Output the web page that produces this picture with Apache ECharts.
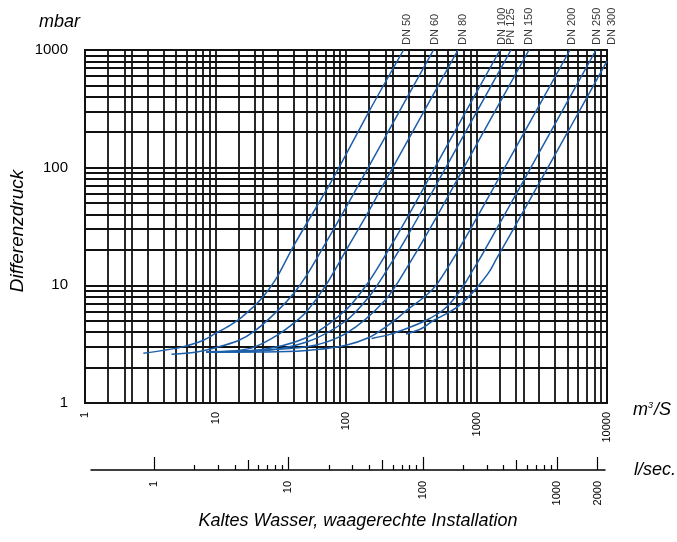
<!DOCTYPE html>
<html><head><meta charset="utf-8">
<script src="https://cdn.jsdelivr.net/npm/echarts@6/dist/echarts.min.js"></script>
<style>html,body{margin:0;padding:0;background:#fff}#c{width:677px;height:542px}</style>
</head><body><div id="c"></div>
<script>
// ---- axis tick / grid values ----
const xGridMantissas = [1, 1.5, 2, 2.3, 3, 4, 5, 6, 7, 8, 9];
const yGridMantissas = [1, 2, 3, 4, 5, 6, 7, 8, 9];
const xTickLabels = [1, 10, 100, 1000, 10000];
const yTickLabels = [1, 10, 100, 1000];
const lsMajorTicks = [1, 10, 100, 1000, 2000];
const lsMediumTicks = [5, 50, 500];
const lsMinorTicks = [2, 3, 4, 6, 7, 8, 9, 20, 30, 40, 60, 70, 80, 90, 200, 300, 400, 600, 700, 800, 900];

// ---- curves: [flow m3, pressure mbar] ----
const seriesNames = ['DN 50', 'DN 60', 'DN 80', 'DN 100', 'PN 125', 'DN 150', 'DN 200', 'DN 250', 'DN 300'];
const dn50  = [[2.8,2.65],[4,2.8],[5.6,3.0],[8,3.4],[10,3.9],[13,4.6],[16,5.4],[22,7.5],[28.6,11],[40,22],[78,78],[150,300],[276,1000]];
const dn60  = [[4.6,2.6],[7,2.7],[10,2.95],[15,3.4],[20,4.1],[30,6.1],[40,8.6],[50,12.2],[70,23],[100,46],[200,183],[468,1000]];
const dn80  = [[8.5,2.7],[15,2.8],[20,3.0],[30,3.8],[40,4.8],[50,6.0],[70,10.0],[100,19.8],[150,43],[200,77],[300,173],[721,1000]];
const dn100 = [[8.5,2.72],[20,2.8],[50,3.6],[100,6.2],[150,10.8],[200,18],[300,39],[500,109],[1514,1000]];
const pn125 = [[8.5,2.72],[20,2.75],[50,3.3],[100,5.0],[150,8.0],[200,12.8],[300,27],[500,74],[1000,296],[1837,1000]];
const dn150 = [[8.5,2.72],[50,3.0],[100,3.9],[200,7.5],[300,14.8],[500,39],[1000,157],[2525,1000]];
const dn200 = [[8.5,2.7],[30,2.72],[60,2.85],[100,3.1],[150,3.6],[200,4.4],[260,5.5],[300,6.3],[400,8.0],[500,10.3],[700,18.6],[1000,37],[2000,148],[5200,1000]];
const dn250 = [[157,3.54],[220,3.85],[309,4.4],[420,5.1],[558,6.2],[680,7.8],[794,9.9],[950,13.8],[1123,18.8],[1514,34],[2310,78.5],[4000,236],[8240,1000]];
const dn300 = [[288,3.86],[380,4.3],[465,5.0],[600,5.8],[744,6.8],[900,8.3],[1059,10.2],[1250,13],[1432,17],[1917,30],[3080,77],[5000,201],[10000,805]];
const curves = [dn50, dn60, dn80, dn100, pn125, dn150, dn200, dn250, dn300];

// label anchor positions along the top edge (flow value)
const dnLabelQ = [292, 481, 784, 1560, 1828, 2525, 5360, 8340, 10990];

const FONT = "'Liberation Sans', Arial, Helvetica, sans-serif";
const BLUE = '#1c5ea9';
const GRIDC = '#111';
const plain = v => String(v);

function expand(mants, decades, last) {
  const out = [];
  decades.forEach(d => mants.forEach(m => out.push(+(m * d).toPrecision(6))));
  if (last !== undefined) out.push(last);
  return out;
}
const xGrid = expand(xGridMantissas, [1, 10, 100, 1000], 10000);
const yGrid = expand(yGridMantissas, [1, 10, 100], 1000);

const chart = echarts.init(document.getElementById('c'), null, {renderer: 'canvas'});

const lsAxisBase = {
  type: 'log', logBase: 10, gridIndex: 1, min: 0.34, max: 2270, position: 'bottom',
  axisLine: {show: true, lineStyle: {color: '#000', width: 1.5}},
  splitLine: {show: false}, minorTick: {show: false}, minorSplitLine: {show: false}
};

const series = curves.map((d, i) => ({
  name: seriesNames[i], type: 'line', xAxisIndex: 0, yAxisIndex: 0,
  data: d, smooth: 0.3, showSymbol: false, symbol: 'none',
  lineStyle: {color: BLUE, width: 1.5}, z: 5, silent: true
}));
series.push({
  type: 'scatter', xAxisIndex: 0, yAxisIndex: 0, symbolSize: 0, clip: false, silent: true,
  data: dnLabelQ.map((q, i) => [q, 1000, seriesNames[i]]),
  label: {show: true, position: 'top', distance: 5, rotate: 90, align: 'left', verticalAlign: 'middle',
    formatter: p => p.data[2], fontFamily: FONT, fontSize: 11, color: '#000'}
});

chart.setOption({
  backgroundColor: '#fff',
  animation: false,
  textStyle: {fontFamily: FONT},
  grid: [
    {left: 85, top: 50, width: 522, height: 353, show: true, borderColor: GRIDC, borderWidth: 2, backgroundColor: 'transparent'},
    {left: 91, top: 420, width: 514, height: 50, show: false}
  ],
  xAxis: [
    {type: 'log', logBase: 10, gridIndex: 0, min: 1, max: 10000,
     axisLine: {show: true, lineStyle: {color: GRIDC, width: 2}},
     axisTick: {show: false, customValues: xGrid},
     splitLine: {show: true, lineStyle: {color: GRIDC, width: 1.8}},
     axisLabel: {customValues: xTickLabels, formatter: plain, rotate: 90, margin: 9, fontSize: 11, color: '#000', fontFamily: FONT}},
    Object.assign({}, lsAxisBase, {
      axisTick: {show: true, inside: true, length: 13, customValues: lsMajorTicks, lineStyle: {color: '#000', width: 1.2}},
      axisLabel: {show: true, customValues: lsMajorTicks, formatter: plain, rotate: 90, margin: 11, fontSize: 11, color: '#000', fontFamily: FONT}}),
    Object.assign({}, lsAxisBase, {axisLine: {show: false},
      axisTick: {show: true, inside: true, length: 10, customValues: lsMediumTicks, lineStyle: {color: '#000', width: 1.2}},
      axisLabel: {show: false}}),
    Object.assign({}, lsAxisBase, {axisLine: {show: false},
      axisTick: {show: true, inside: true, length: 5, customValues: lsMinorTicks, lineStyle: {color: '#000', width: 1.2}},
      axisLabel: {show: false}})
  ],
  yAxis: [
    {type: 'log', logBase: 10, gridIndex: 0, min: 1, max: 1000,
     axisLine: {show: true, lineStyle: {color: GRIDC, width: 2}},
     axisTick: {show: false, customValues: yGrid},
     splitLine: {show: true, lineStyle: {color: GRIDC, width: 1.8}},
     axisLabel: {customValues: yTickLabels, formatter: plain, margin: 17, fontSize: 15, color: '#000', fontFamily: FONT},
     name: 'mbar', nameLocation: 'end', nameGap: 28,
     nameTextStyle: {fontStyle: 'italic', fontSize: 18, color: '#000', align: 'right', verticalAlign: 'middle', padding: [0, 5, 0, 0], fontFamily: FONT}},
    {type: 'value', gridIndex: 1, min: 0, max: 1, show: false}
  ],
  graphic: [
    {type: 'text', x: 18, y: 231, rotation: Math.PI / 2,
     style: {text: 'Differenzdruck', font: 'italic 19px ' + FONT, fill: '#000', textAlign: 'center', textVerticalAlign: 'middle'}},
    {type: 'text', x: 633, y: 410,
     style: {text: '{a|m}{b|3}{a|/S}', rich: {a: {font: 'italic 18px ' + FONT, fill: '#000'}, b: {font: 'italic 9px ' + FONT, fill: '#000', verticalAlign: 'top', padding: [0, 1, 7, 0]}}, textVerticalAlign: 'middle'}},
    {type: 'text', x: 634, y: 470,
     style: {text: 'l/sec.', font: 'italic 18px ' + FONT, fill: '#000', textVerticalAlign: 'middle'}},
    {type: 'text', x: 358, y: 521,
     style: {text: 'Kaltes Wasser, waagerechte Installation', font: 'italic 18px ' + FONT, fill: '#000', textAlign: 'center', textVerticalAlign: 'middle'}}
  ],
  series: series
});
</script>
</body></html>
